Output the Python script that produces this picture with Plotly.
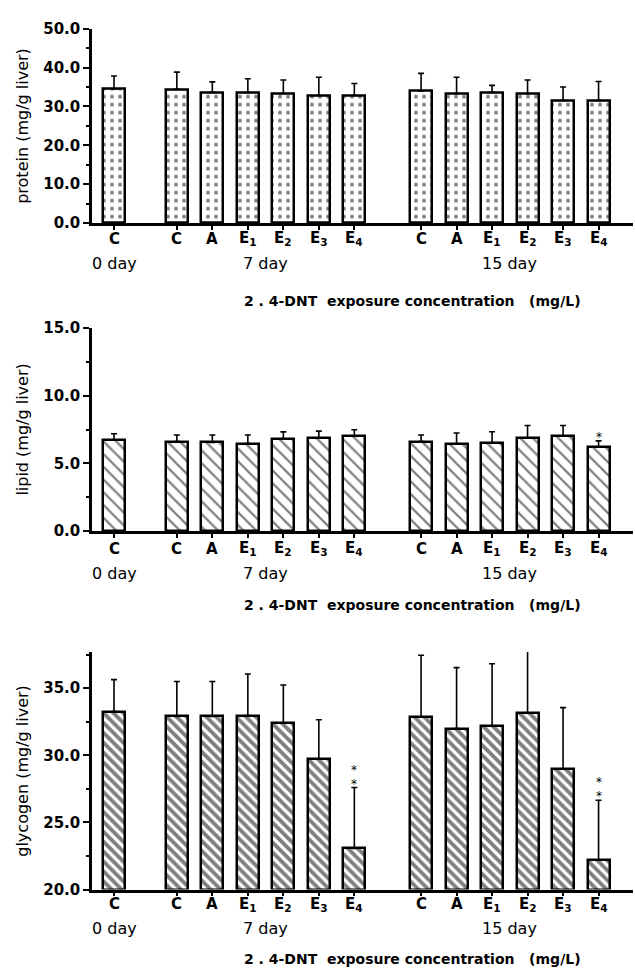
import plotly.graph_objects as go

# ---- data ----
categories = ["C", "C", "A", "E<sub>1</sub>", "E<sub>2</sub>", "E<sub>3</sub>", "E<sub>4</sub>",
              "C", "A", "E<sub>1</sub>", "E<sub>2</sub>", "E<sub>3</sub>", "E<sub>4</sub>"]
groups = ["0 day", "7 day", "15 day"]
group_sizes = [1, 6, 6]

protein = [34.5, 34.4, 33.6, 33.6, 33.3, 32.8, 32.8, 34.0, 33.3, 33.6, 33.3, 31.5, 31.5]
protein_err = [3.3, 4.4, 2.7, 3.5, 3.5, 4.7, 3.1, 4.5, 4.2, 1.8, 3.5, 3.5, 4.9]

lipid = [6.72, 6.62, 6.55, 6.47, 6.83, 6.90, 7.05, 6.62, 6.43, 6.52, 6.90, 7.05, 6.23]
lipid_err = [0.48, 0.48, 0.55, 0.63, 0.50, 0.49, 0.44, 0.48, 0.82, 0.82, 0.90, 0.75, 0.44]
lipid_sig = [0, 0, 0, 0, 0, 0, 0, 0, 0, 0, 0, 0, 1]

glycogen = [33.26, 32.9, 32.9, 32.96, 32.4, 29.74, 23.06, 32.84, 32.0, 32.19, 33.13, 28.96, 22.2]
glycogen_err = [2.38, 2.6, 2.6, 3.1, 2.84, 2.91, 4.54, 4.62, 4.53, 4.63, 4.62, 4.59, 4.45]
glycogen_sig = [0, 0, 0, 0, 0, 0, 2, 0, 0, 0, 0, 0, 2]

ylabels = ["protein (mg/g liver)", "lipid (mg/g liver)", "glycogen (mg/g liver)"]
xtitle = "2 . 4-DNT  exposure concentration   (mg/L)"

# group starting offsets (layout)
group_start = [0.0, 1.77, 8.65]
xpos = []
for gs, n in zip(group_start, group_sizes):
    xpos += [gs + i for i in range(n)]
group_centers = [gs + (n - 1) / 2 for gs, n in zip(group_start, group_sizes)]

H = 979
FONT = "DejaVu Sans, Liberation Sans, Arial, sans-serif"

panels = [
    dict(vals=protein, err=protein_err, sig=[0] * 13, rng=[0, 50], dtick=10, minor=5,
         top=20, bot=218, shape=".", psize=8, psol=0.2, lab_y=234, day_y=259, tit_y=297),
    dict(vals=lipid, err=lipid_err, sig=lipid_sig, rng=[0, 15], dtick=5, minor=2.5,
         top=325, bot=532, shape="\\", psize=9, psol=0.25, lab_y=550, day_y=575, tit_y=607),
    dict(vals=glycogen, err=glycogen_err, sig=glycogen_sig, rng=[20, 37.7], dtick=5, minor=2.5,
         top=655, bot=897, shape="\\", psize=7, psol=0.55, lab_y=912, day_y=937, tit_y=968),
]

fig = go.Figure()
annotations = []
layout_axes = {}
for i, p in enumerate(panels):
    k = "" if i == 0 else str(i + 1)
    fig.add_trace(go.Bar(
        x=xpos, y=[v - p["rng"][0] for v in p["vals"]], base=p["rng"][0],
        width=0.62,
        marker=dict(color="white", line=dict(color="black", width=2.5),
                    pattern=dict(shape=p["shape"], fgcolor="black", bgcolor="white",
                                 size=p["psize"], solidity=p["psol"])),
        error_y=dict(type="data", symmetric=False, array=p["err"],
                     arrayminus=[0] * len(p["err"]), color="black", thickness=1.6, width=3),
        xaxis="x" + k, yaxis="y" + k, showlegend=False,
    ))
    dom = [1 - p["bot"] / H, 1 - p["top"] / H]
    layout_axes["xaxis" + k] = dict(
        domain=[0, 1], anchor="y" + k, range=[-0.62, 14.62],
        tickmode="array", tickvals=xpos, showticklabels=False,
        ticks="outside", ticklen=4, tickwidth=1.5, tickcolor="black",
        showline=True, linecolor="black", linewidth=2.5, showgrid=False, zeroline=False,
    )
    layout_axes["yaxis" + k] = dict(
        domain=dom, anchor="x" + k, range=p["rng"],
        tick0=p["rng"][0], dtick=p["dtick"], tickformat=".1f",
        ticks="outside", ticklen=6, tickwidth=2, tickcolor="black",
        minor=dict(dtick=p["minor"], ticks="outside", ticklen=3, tickwidth=1.5, tickcolor="black"),
        showline=True, linecolor="black", linewidth=2.5, showgrid=False, zeroline=False,
        tickfont=dict(family=FONT, size=15, color="black", weight="bold"),
    )
    # category labels
    for x, c in zip(xpos, categories):
        annotations.append(dict(
            text=c, xref="x" + k, yref="paper", x=x, y=1 - p["lab_y"] / H,
            showarrow=False, font=dict(family=FONT, size=15, color="black", weight="bold"),
            xanchor="center", yanchor="middle"))
    # y title
    annotations.append(dict(
        text=ylabels[i], xref="paper", yref="paper", x=(23 - 92) / 541,
        y=(dom[0] + dom[1]) / 2, textangle=-90, showarrow=False,
        font=dict(family=FONT, size=16, color="black"), xanchor="center", yanchor="middle"))
    # day labels
    for g, c in zip(groups, group_centers):
        annotations.append(dict(
            text=g, xref="x" + k, yref="paper", x=c, y=1 - p["day_y"] / H,
            showarrow=False, font=dict(family=FONT, size=16, color="black"),
            xanchor="center", yanchor="middle"))
    # x title
    annotations.append(dict(
        text=xtitle, xref="paper", yref="paper", x=(412 - 92) / 541, y=1 - p["tit_y"] / H,
        showarrow=False, font=dict(family=FONT, size=14, color="black", weight="bold"),
        xanchor="center", yanchor="middle"))
    # significance asterisks, stacked
    for x, v, e, s in zip(xpos, p["vals"], p["err"], p["sig"]):
        for j in range(s):
            annotations.append(dict(
                text="*", xref="x" + k, yref="y" + k, x=x, y=v + e,
                showarrow=False, font=dict(family=FONT, size=12, color="black"),
                xanchor="center", yanchor="middle", yshift=4 + 14 * j))

fig.update_layout(
    width=635, height=979, margin=dict(l=92, r=2, t=0, b=0),
    paper_bgcolor="white", plot_bgcolor="white",
    annotations=annotations, bargap=0, **layout_axes,
)
fig.write_html("out.html")
